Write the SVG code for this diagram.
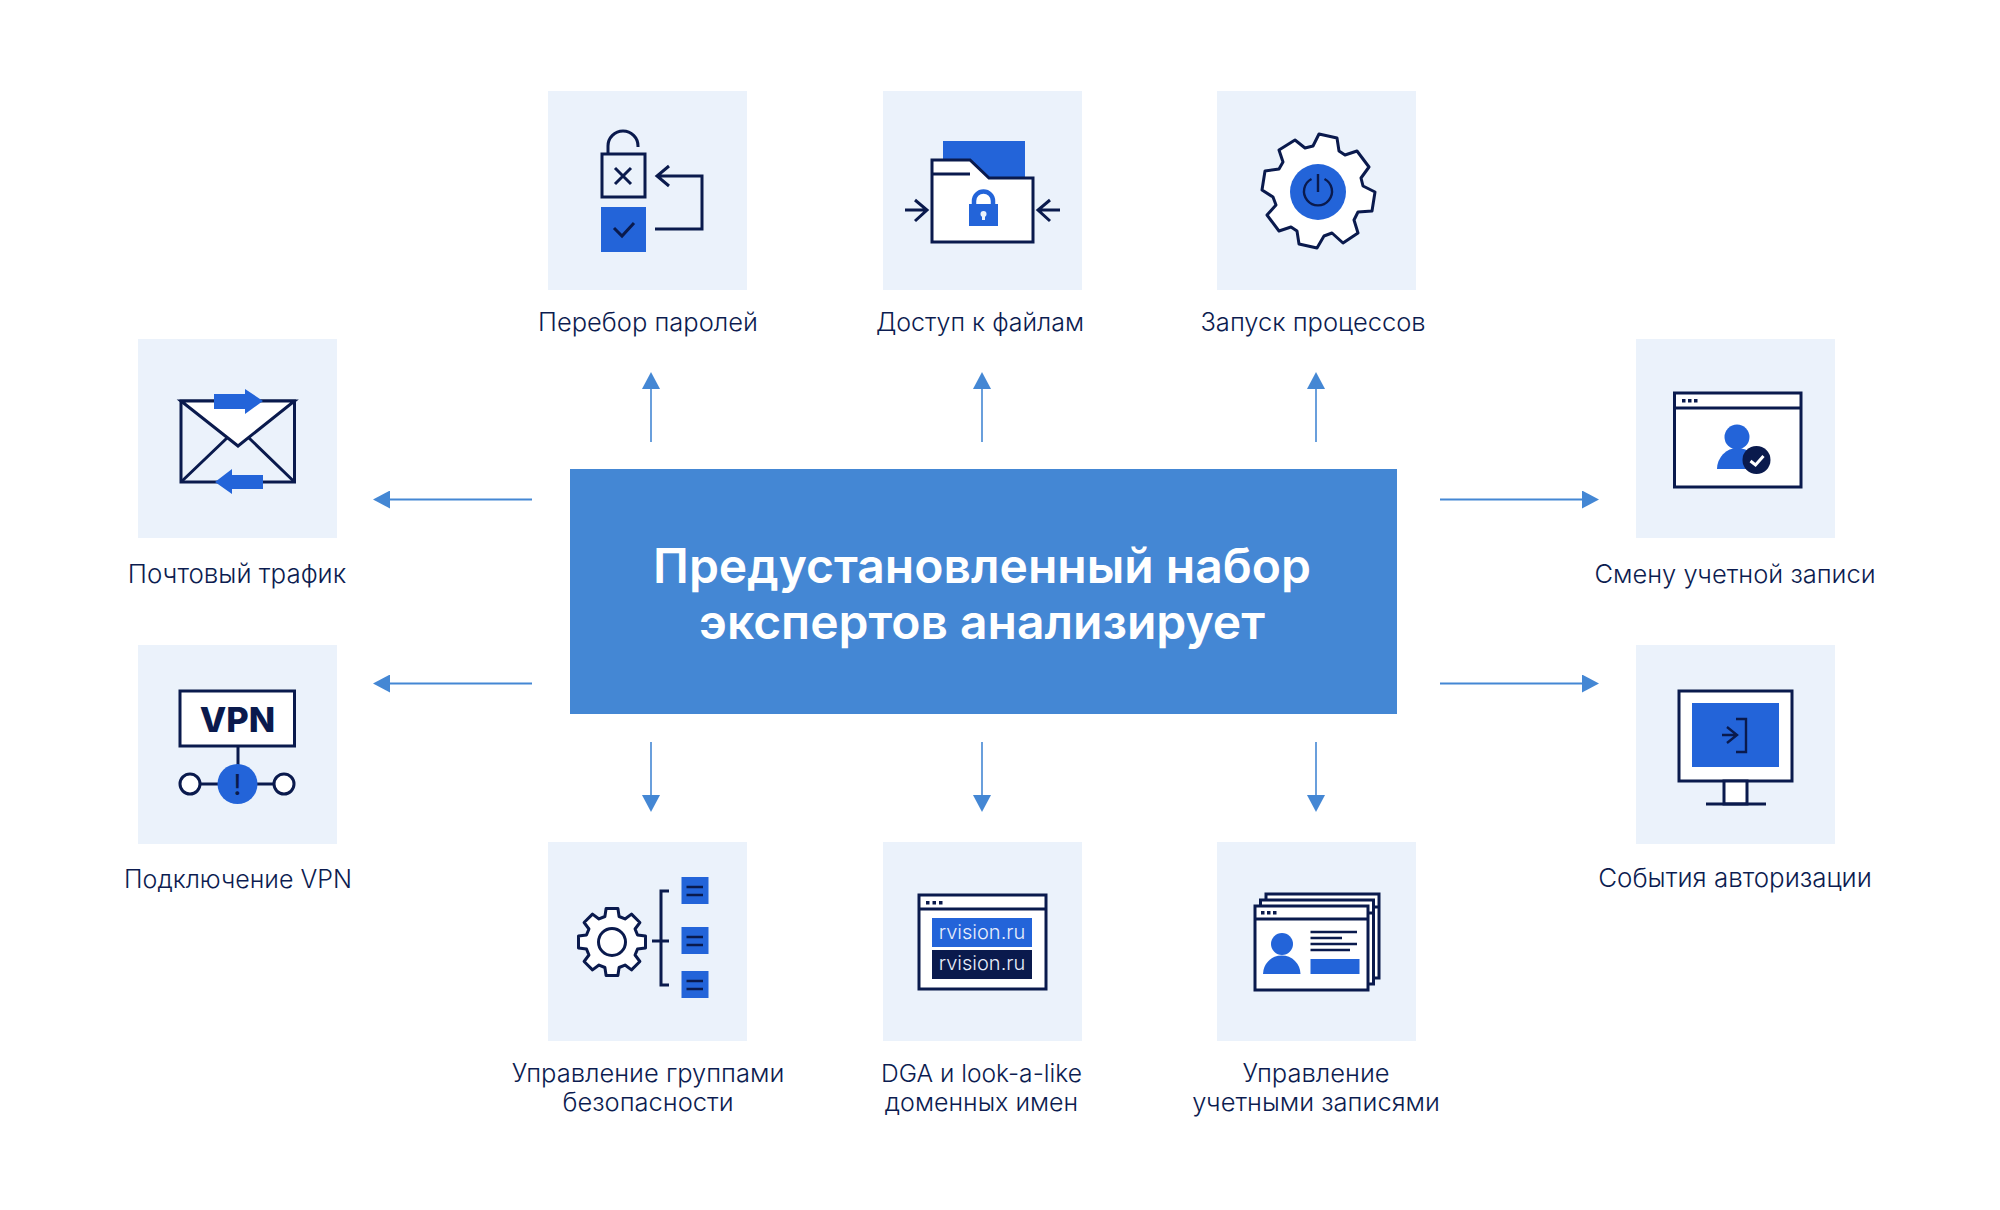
<svg xmlns="http://www.w3.org/2000/svg" width="2000" height="1210" viewBox="0 0 2000 1210">
<style>
text{font-family:"Inter","Noto Sans",sans-serif}
.bg{fill:#ebf2fb}
.lab{font-size:25.500px;font-weight:300;fill:#0c1c50;text-anchor:middle}
.ls{font-size:25px}
.lxs{font-size:24.600px}
.ll{font-size:25.900px}
.s{fill:none;stroke:#0a1a4d;stroke-width:3;stroke-linecap:butt;stroke-linejoin:miter}
.t{fill:none;stroke:#0a1a4d;stroke-width:2.4}
.w{fill:#fff;stroke:#0a1a4d;stroke-width:3}
.b{fill:#2364d9}
.n{fill:#0a1a4d}
.d{fill:#0a1a4d}
.c{stroke:#4487d4;stroke-width:2;fill:none;marker-end:url(#ah)}
.cv{stroke:#4487d4;stroke-width:1.6;fill:none;marker-end:url(#ah)}
</style>
<defs>
<marker id="ah" markerUnits="userSpaceOnUse" markerWidth="17" markerHeight="18" viewBox="0 0 17 18" refX="0" refY="9" orient="auto"><path d="M0 0L17 9L0 18Z" fill="#4487d4"/></marker>
</defs>
<rect width="2000" height="1210" fill="#fff"/>
<g id="connectors">
<line class="cv" x1="651" y1="442" x2="651" y2="389"/>
<line class="cv" x1="982" y1="442" x2="982" y2="389"/>
<line class="cv" x1="1316" y1="442" x2="1316" y2="389"/>
<line class="cv" x1="651" y1="742" x2="651" y2="795"/>
<line class="cv" x1="982" y1="742" x2="982" y2="795"/>
<line class="cv" x1="1316" y1="742" x2="1316" y2="795"/>
<line class="c" x1="532" y1="499.500" x2="390" y2="499.500"/>
<line class="c" x1="532" y1="683.500" x2="390" y2="683.500"/>
<line class="c" x1="1440" y1="499.500" x2="1582" y2="499.500"/>
<line class="c" x1="1440" y1="683.500" x2="1582" y2="683.500"/>
</g>
<g id="center">
<rect x="570" y="469" width="827" height="245" fill="#4487d4"/>
<text x="982" y="583" text-anchor="middle" font-size="48" font-weight="600" fill="#fff">Предустановленный набор</text>
<text x="982" y="639" text-anchor="middle" font-size="48" font-weight="600" fill="#fff">экспертов анализирует</text>
</g>
<g id="node-passwords" transform="translate(-2 0)">
<rect class="bg" x="550" y="91" width="199" height="199"/>
<path class="s" d="M610 154V146A15 15 0 0 1 640 146V147"/>
<rect class="s" x="604" y="154" width="43" height="43"/>
<path class="s" d="M617 168L633 184M633 168L617 184"/>
<path class="s" d="M657 229H704V176H659M671 166L659 176L671 186"/>
<rect class="b" x="603" y="207" width="45" height="45"/>
<path class="s" d="M616 228L624 236L636 223"/>
<text class="lab" x="650" y="331">Перебор паролей</text>
</g>
<g id="node-files" transform="translate(-4 0)">
<rect class="bg" x="887" y="91" width="199" height="199"/>
<rect class="b" x="947" y="141" width="82" height="38"/>
<path class="w" d="M936 160H974L993 178H1037V242H936Z"/>
<path class="s" d="M936 174H974"/>
<rect class="b" x="973" y="204" width="29" height="22"/>
<path d="M978 205V201A9.500 9.500 0 0 1 997 201V205" fill="none" stroke="#2364d9" stroke-width="4.500"/>
<circle cx="987.500" cy="214" r="3" fill="#ebf2fb"/><rect x="986" y="214" width="3" height="6" fill="#ebf2fb"/>
<path class="s" d="M909 210H931M919 200L931 210L919 221"/>
<path class="s" d="M1064 210H1042M1054 200L1042 210L1054 221"/>
<text class="lab ls" x="984" y="331">Доступ к файлам</text>
</g>
<g id="node-processes" transform="translate(-6 0)">
<rect class="bg" x="1223" y="91" width="199" height="199"/>
<path class="w" stroke-linejoin="round" d="M1325 134L1343 138L1345 151L1351 155L1363 151L1375 167L1367 178L1369 186L1381 192L1378 211L1364 212L1360 220L1364 233L1349 243L1338 233L1330 236L1323 248L1305 244L1303 231L1297 227L1285 231L1273 215L1282 205L1279 197L1268 190L1271 171L1285 169L1289 162L1285 150L1301 140L1311 148L1319 146Z"/>
<circle class="b" cx="1324" cy="192" r="28"/>
<path class="t" d="M1317.500 179A14 14 0 1 0 1330.500 179M1324 174V192"/>
<text class="lab" x="1319" y="331">Запуск процессов</text>
</g>
<g id="node-mail" transform="translate(-1 -2)">
<rect class="bg" x="139" y="341" width="199" height="199"/>
<rect class="s" x="182" y="403" width="113.500" height="81"/>
<path class="w" d="M182 403L239 448L295.500 403Z"/>
<path class="s" d="M182 484L228 440M295.500 484L250 440"/>
<path class="b" d="M215 396H246V391L264 403L246 416V411H215Z"/>
<path class="b" d="M264 477H233V471L216 484L233 496V491H264Z"/>
<text class="lab ll" x="238" y="584.500">Почтовый трафик</text>
</g>
<g id="node-vpn" transform="translate(-1 -4)">
<rect class="bg" x="139" y="649" width="199" height="199"/>
<rect class="w" x="181" y="695" width="114.500" height="55"/>
<text x="238.500" y="736" text-anchor="middle" font-size="34.500" font-weight="800" fill="#0a1a4d">VPN</text>
<path class="s" d="M239 750V770M201 788H276"/>
<circle class="w" cx="191" cy="788" r="10"/>
<circle class="w" cx="285" cy="788" r="10"/>
<circle class="b" cx="238.500" cy="788" r="20"/>
<text x="238.500" y="799" text-anchor="middle" font-size="29" fill="#0a1a4d">!</text>
<text class="lab ls" x="239" y="891.500">Подключение VPN</text>
</g>
<g id="node-account-change" transform="translate(-8 -2)">
<rect class="bg" x="1644" y="341" width="199" height="199"/>
<rect class="w" x="1682.500" y="395" width="126.500" height="94"/>
<path class="s" d="M1682.500 410H1809"/>
<rect class="d" x="1690" y="401" width="3.500" height="3.500"/><rect class="d" x="1696" y="401" width="3.500" height="3.500"/><rect class="d" x="1702" y="401" width="3.500" height="3.500"/>
<circle class="b" cx="1745" cy="439" r="12.500"/>
<path class="b" d="M1725 471A20.500 21 0 0 1 1766 471Z"/>
<circle class="n" cx="1764.500" cy="462" r="14"/>
<path d="M1758.500 463L1763.500 467L1771.500 458" fill="none" stroke="#fff" stroke-width="3"/>
<text class="lab" x="1743" y="584.500">Смену учетной записи</text>
</g>
<g id="node-auth" transform="translate(-9 -4)">
<rect class="bg" x="1645" y="649" width="199" height="199"/>
<rect class="w" x="1688" y="695" width="113" height="90"/>
<rect class="b" x="1701" y="707" width="87" height="64"/>
<path class="t" d="M1731 739H1746M1736 731L1746 739L1736 747M1745 723H1755V756H1745"/>
<rect class="w" x="1733" y="785" width="23" height="23"/>
<path class="s" d="M1715 808H1775"/>
<text class="lab ll" x="1744" y="891">События авторизации</text>
</g>
<g id="node-groups" transform="translate(-2 -4)">
<rect class="bg" x="550" y="846" width="199" height="199"/>
<path class="w" stroke-linejoin="round" transform="translate(614 946)" d="M-7.100 -25.500L-5.900 -33.500L5.900 -33.500L7.100 -25.500L13 -23.050L19.500 -27.900L27.900 -19.500L23.050 -13L25.500 -7.100L33.500 -5.900L33.500 5.900L25.500 7.100L23.050 13L27.900 19.500L19.500 27.900L13 23.050L7.100 25.500L5.900 33.500L-5.900 33.500L-7.100 25.500L-13 23.050L-19.500 27.900L-27.900 19.500L-23.050 13L-25.500 7.100L-33.500 5.900L-33.500 -5.900L-25.500 -7.100L-23.050 -13L-27.900 -19.500L-19.500 -27.900L-13 -23.050Z"/>
<circle class="s" cx="614" cy="946" r="13.500"/>
<path class="s" d="M671 895H663V989H671M654 945H671"/>
<rect class="b" x="683.500" y="881" width="27" height="27"/><rect class="b" x="683.500" y="931" width="27" height="27"/><rect class="b" x="683.500" y="975" width="27" height="27"/>
<path class="t" d="M688.500 891H705M688.500 899H705M688.500 941H705M688.500 949H705M688.500 985H705M688.500 993H705"/>
<text class="lab" x="650" y="1085.500">Управление группами</text>
<text class="lab" x="650" y="1115">безопасности</text>
</g>
<g id="node-dga" transform="translate(-4 -4)">
<rect class="bg" x="887" y="846" width="199" height="199"/>
<rect class="w" x="923" y="899" width="127" height="94"/>
<path class="s" d="M923 913H1050"/>
<rect class="d" x="930" y="905" width="3.500" height="3.500"/><rect class="d" x="936.500" y="905" width="3.500" height="3.500"/><rect class="d" x="943" y="905" width="3.500" height="3.500"/>
<rect class="b" x="936" y="922" width="100" height="29"/>
<rect class="n" x="936" y="954" width="100" height="29"/>
<text x="986" y="943" text-anchor="middle" font-size="20" font-weight="300" fill="#e8eefb">rvision.ru</text>
<text x="986" y="974" text-anchor="middle" font-size="20" font-weight="300" fill="#e8eefb">rvision.ru</text>
<text class="lab lxs" x="985.500" y="1085.500">DGA и look-a-like</text>
<text class="lab ls" x="985.500" y="1115">доменных имен</text>
</g>
<g id="node-accounts" transform="translate(-6 -4)">
<rect class="bg" x="1223" y="846" width="199" height="199"/>
<rect class="w" x="1272" y="898" width="113" height="84"/>
<path class="s" d="M1373 911H1385"/>
<rect class="w" x="1266.500" y="904" width="113" height="84"/>
<path class="s" d="M1367 917H1379.500"/>
<rect class="w" x="1261" y="910" width="113" height="84"/>
<path class="s" d="M1261 923H1374"/>
<rect class="d" x="1267" y="915" width="3.500" height="3.500"/><rect class="d" x="1273" y="915" width="3.500" height="3.500"/><rect class="d" x="1279" y="915" width="3.500" height="3.500"/>
<circle class="b" cx="1288" cy="948" r="11"/>
<path class="b" d="M1269 978A18.700 18.500 0 0 1 1306.500 978Z"/>
<path class="t" d="M1316.500 936H1363M1316.500 942H1348M1316.500 948H1363M1316.500 954H1356"/>
<rect class="b" x="1316.500" y="963" width="49" height="15"/>
<text class="lab" x="1322" y="1085.500">Управление</text>
<text class="lab" x="1322" y="1115">учетными записями</text>
</g>
</svg>
